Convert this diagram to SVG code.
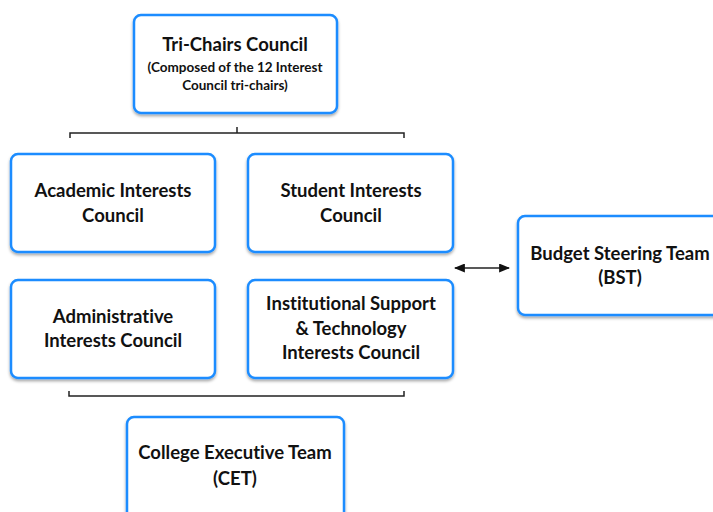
<svg xmlns="http://www.w3.org/2000/svg" width="713" height="512" viewBox="0 0 713 512">
  <defs>
    <filter id="shadow" x="-10%" y="-10%" width="120%" height="130%">
      <feDropShadow dx="0" dy="2" stdDeviation="1.5" flood-color="#000" flood-opacity="0.35"/>
    </filter>
    <marker id="arrow" viewBox="0 0 10 10" refX="9" refY="5" markerWidth="11" markerHeight="9" orient="auto-start-reverse" markerUnits="userSpaceOnUse" preserveAspectRatio="none">
      <path d="M0,0 L10,5 L0,10 z" fill="#111"/>
    </marker>
    <style>
      .box { fill: #fff; stroke: #1a8cff; stroke-width: 2.5; filter: url(#shadow); }
      .t { font-family: Lato, "Noto Sans", sans-serif; font-weight: bold; font-size: 18.5px; fill: #111; text-anchor: middle; font-variant-ligatures: none; }
      .s { font-family: Lato, "Noto Sans", sans-serif; font-weight: bold; font-size: 13.5px; fill: #111; text-anchor: middle; font-variant-ligatures: none; }
      .line { fill: none; stroke: #222; stroke-width: 1.5; }
    </style>
  </defs>
  <rect width="713" height="512" fill="#fff"/>

  <!-- connectors -->
  <g id="connectors">
    <path class="line" d="M70,138 V133 H404 V138"/>
    <path class="line" d="M237,127 V133"/>
    <path class="line" d="M69,391 V396 H404 V391"/>
    <line class="line" x1="455" y1="268" x2="509" y2="268" stroke-width="2" marker-start="url(#arrow)" marker-end="url(#arrow)"/>
  </g>

  <g id="tri-chairs">
    <rect class="box" x="134" y="15" width="203" height="98" rx="7"/>
    <text class="t" x="235" y="51">Tri-Chairs Council</text>
    <text class="s" x="235" y="72">(Composed of the 12 Interest</text>
    <text class="s" x="235" y="90">Council tri-chairs)</text>
  </g>

  <g id="academic">
    <rect class="box" x="11" y="154" width="204" height="98" rx="7"/>
    <text class="t" x="113" y="197">Academic Interests</text>
    <text class="t" x="113" y="222">Council</text>
  </g>

  <g id="student">
    <rect class="box" x="248" y="154" width="205" height="98" rx="7"/>
    <text class="t" x="351" y="197">Student Interests</text>
    <text class="t" x="351" y="222">Council</text>
  </g>

  <g id="administrative">
    <rect class="box" x="11" y="280" width="204" height="98" rx="7"/>
    <text class="t" x="113" y="323">Administrative</text>
    <text class="t" x="113" y="347">Interests Council</text>
  </g>

  <g id="institutional">
    <rect class="box" x="248" y="280" width="205" height="98" rx="7"/>
    <text class="t" x="351" y="310">Institutional Support</text>
    <text class="t" x="351" y="335">&amp; Technology</text>
    <text class="t" x="351" y="359">Interests Council</text>
  </g>

  <g id="bst">
    <rect class="box" x="518" y="216" width="204" height="99" rx="7"/>
    <text class="t" x="620" y="260">Budget Steering Team</text>
    <text class="t" x="620" y="284">(BST)</text>
  </g>

  <g id="cet">
    <rect class="box" x="127" y="417" width="217" height="110" rx="7"/>
    <text class="t" x="235" y="459">College Executive Team</text>
    <text class="t" x="235" y="485">(CET)</text>
  </g>
</svg>
